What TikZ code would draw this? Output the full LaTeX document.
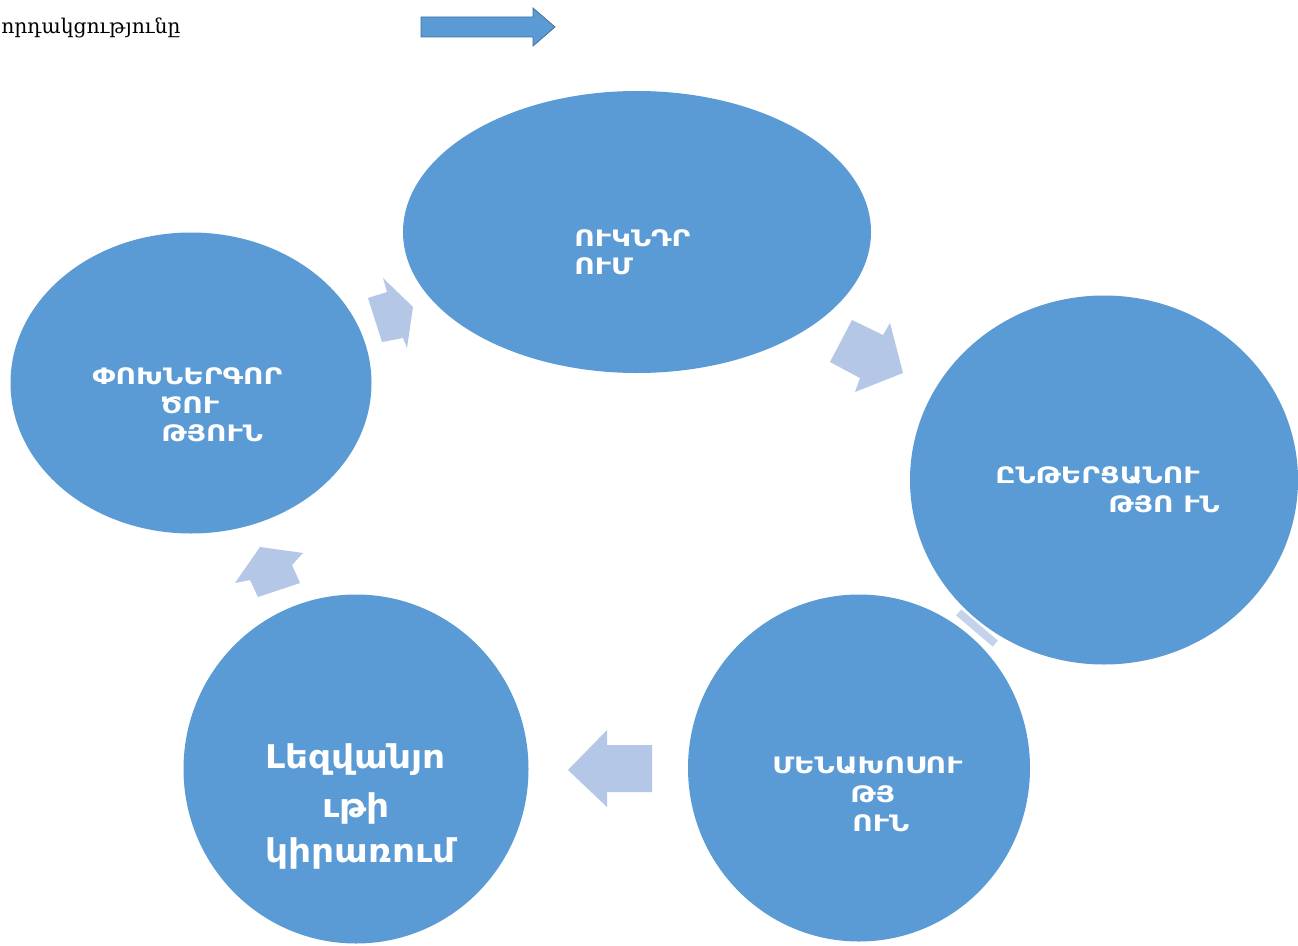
\documentclass[tikz,border=0pt]{standalone}
\usepackage{fontspec}
\usetikzlibrary{shapes.geometric}
\newfontfamily\armsans[FakeStretch=1.24]{DejaVu Sans}
\newfontfamily\armsanslow[FakeStretch=1.1]{DejaVu Sans}
\newfontfamily\armserif{DejaVu Serif}
\definecolor{circ}{HTML}{5B9BD5}
\definecolor{parrow}{HTML}{B4C7E7}
\definecolor{parrowb}{HTML}{C3D3EC}
\definecolor{arrline}{HTML}{41719C}
\begin{document}
\begin{tikzpicture}[x=0.75pt,y=-0.75pt,
  bubble/.style={ellipse,fill=circ,draw=none,inner sep=0pt,outer sep=0pt},
  captxt/.style={anchor=base west,inner sep=0pt,text=white,font=\armsans\bfseries\fontsize{17}{20}\selectfont},
  bigtxt/.style={anchor=base west,inner sep=0pt,text=white,font=\armsanslow\bfseries\fontsize{24.5}{28}\selectfont},
  cyclearrow/.style={fill=parrow,draw=none}]
\useasboundingbox (0,0) rectangle (1298,945);
\fill[white] (0,0) rectangle (1298,945);
% header
\node[anchor=base west,inner sep=0pt,font=\armserif\fontsize{15.2}{18}\selectfont] (title) at (1,34) {որդակցությունը};
\filldraw[fill=circ,draw=arrline,line width=0.6pt] (421,17) -- (533,17) -- (533,8) -- (555,27) -- (533,46) -- (533,37) -- (421,37) -- cycle;
% bubbles
\node[bubble,minimum width=351pt,minimum height=211.5pt] (top) at (637,232) {};
\node[bubble,minimum width=270.75pt,minimum height=225.75pt] (left) at (191,383) {};
\node[bubble,minimum width=291pt,minimum height=276.75pt] (right) at (1104,480) {};
\node[bubble,minimum width=256.5pt,minimum height=260.25pt] (bright) at (859,768) {};
\node[bubble,minimum width=258.75pt,minimum height=261.75pt] (bleft) at (356,769) {};
% cycle arrows
\fill[cyclearrow] (368,298) -- (387,292) -- (383,278) -- (413,307) -- (407,348) -- (403,338) -- (382,342) -- cycle;
\fill[cyclearrow] (852,320) -- (883,335) -- (890,323) -- (903,373) -- (855,392) -- (860,378) -- (830,362) -- cycle;
\fill[parrowb] (961.3,609.4) -- (997.9,640.6) -- (992.7,646.6) -- (956.1,615.4) -- cycle;
\fill[cyclearrow] (652,745) -- (607,745) -- (607,730) -- (568,770) -- (607,807) -- (607,792) -- (652,792) -- cycle;
\fill[cyclearrow] (258,597) -- (300,583) -- (292,565) -- (303,553) -- (260,547) -- (235,583) -- (250,580) -- cycle;
% texts
\node[captxt] (t1a) at (574,246) {ՈՒԿՆԴՐ};
\node[captxt] (t1b) at (574,274) {ՈՒՄ};
\node[captxt] (t2a) at (92,384) {ՓՈԽՆԵՐԳՈՐ};
\node[captxt] (t2b) at (160,413) {ԾՈՒ};
\node[captxt] (t2c) at (161,441) {ԹՅՈՒՆ};
\node[captxt] (t3a) at (995,483) {ԸՆԹԵՐՑԱՆՈՒ};
\node[captxt] (t3b) at (1108,512) {ԹՅՈ ՒՆ};
\node[captxt] (t4a) at (772,773) {ՄԵՆԱԽՈՍՈՒ};
\node[captxt] (t4b) at (850,802) {ԹՅ};
\node[captxt] (t4c) at (852,831) {ՈՒՆ};
\node[bigtxt] (t5a) at (265,768) {Լեզվանյո};
\node[bigtxt] (t5b) at (322,817) {ւթի};
\node[bigtxt] (t5c) at (265,862) {կիրառում};
\end{tikzpicture}
\end{document}
